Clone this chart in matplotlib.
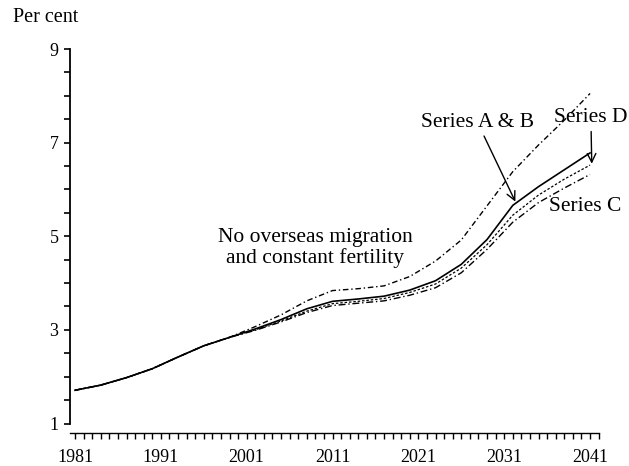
import matplotlib.pyplot as plt
from matplotlib.ticker import MultipleLocator, FixedLocator

# data (per cent of population)
years = [1981, 1984, 1987, 1990, 1993, 1996, 1999, 2002, 2005, 2008, 2011,
         2014, 2017, 2020, 2023, 2026, 2029, 2032, 2035, 2038, 2041]
no_migration = [1.71, 1.82, 1.98, 2.17, 2.42, 2.66, 2.84, 3.07, 3.32, 3.62, 3.84,
                3.88, 3.94, 4.14, 4.47, 4.92, 5.65, 6.38, 6.95, 7.48, 8.05]
series_ab = [1.71, 1.82, 1.98, 2.17, 2.42, 2.66, 2.84, 3.02, 3.22, 3.45, 3.61,
             3.66, 3.72, 3.85, 4.05, 4.40, 4.93, 5.66, 6.06, 6.42, 6.78]
series_d = [1.71, 1.82, 1.98, 2.17, 2.42, 2.66, 2.84, 3.00, 3.19, 3.40, 3.56,
            3.61, 3.67, 3.80, 3.98, 4.32, 4.82, 5.45, 5.88, 6.22, 6.52]
series_c = [1.71, 1.82, 1.98, 2.17, 2.42, 2.66, 2.84, 2.99, 3.17, 3.37, 3.52,
            3.57, 3.62, 3.74, 3.90, 4.22, 4.72, 5.30, 5.72, 6.03, 6.32]
year_labels = [1981, 1991, 2001, 2011, 2021, 2031, 2041]
y_labels = [1, 3, 5, 7, 9]

plt.rcParams['font.family'] = ['Liberation Serif', 'DejaVu Serif']

fig = plt.figure(figsize=(6.29, 4.66), dpi=100)
ax = fig.add_axes([0.1105, 0.0912, 0.8412, 0.8036])

ax.plot(years, no_migration, color='black', lw=1.0, ls=(0, (4, 2, 1, 2)))
ax.plot(years, series_ab, color='black', lw=1.2, ls='-')
ax.plot(years, series_d, color='black', lw=0.9, ls=(0, (2, 1.5)))
ax.plot(years, series_c, color='black', lw=1.0, ls=(0, (5, 2, 1, 2)))

ax.set_xlim(1980.36, 2042.0)
ax.set_ylim(1, 9)

ax.spines['top'].set_visible(False)
ax.spines['right'].set_visible(False)
ax.spines['bottom'].set_position(('outward', 7))
ax.spines['left'].set_linewidth(1.3)
ax.spines['bottom'].set_linewidth(1.0)

ax.xaxis.set_major_locator(FixedLocator(year_labels))
ax.xaxis.set_minor_locator(MultipleLocator(1))
ax.set_xticklabels([str(y) for y in year_labels])
ax.yaxis.set_major_locator(FixedLocator(y_labels))
ax.yaxis.set_minor_locator(MultipleLocator(0.5))
ax.set_yticklabels([str(y) for y in y_labels])

ax.tick_params(axis='x', which='both', direction='out', length=4, width=1.0,
               pad=7, labelsize=13)
ax.tick_params(axis='y', which='both', direction='out', length=4, width=1.2,
               pad=4, labelsize=13)

fig.text(13 / 629, 1 - 17 / 466, 'Per cent', ha='left', va='center', fontsize=14.5)

ax.text(2009.0, 4.75, 'No overseas migration\nand constant fertility',
        ha='center', va='center', fontsize=15.5, linespacing=1.05)

ax.annotate('Series A & B', xy=(2032.3, 5.74), xytext=(2027.9, 7.43),
            ha='center', va='center', fontsize=15.5,
            arrowprops=dict(arrowstyle='->', color='black', lw=1.0,
                            shrinkA=1, shrinkB=0))
ax.annotate('Series D', xy=(2041.2, 6.55), xytext=(2041.1, 7.53),
            ha='center', va='center', fontsize=15.5,
            arrowprops=dict(arrowstyle='->', color='black', lw=1.0,
                            shrinkA=1, shrinkB=0))
ax.text(2040.4, 5.63, 'Series C', ha='center', va='center', fontsize=15.5)

fig.savefig('out.png', dpi=100)
